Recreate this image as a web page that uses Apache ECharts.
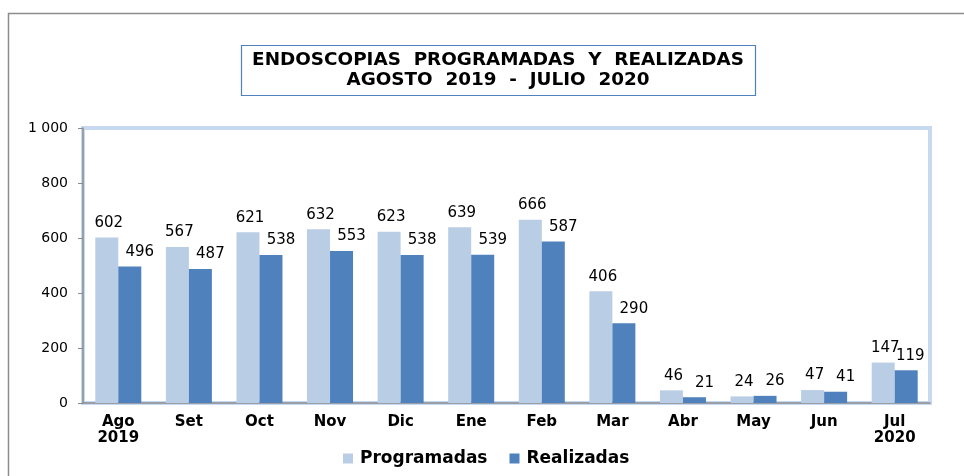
<!DOCTYPE html>
<html>
<head>
<meta charset="utf-8">
<script src="https://cdn.jsdelivr.net/npm/echarts@6/dist/echarts.min.js"></script>
<style>
  html, body { margin: 0; padding: 0; background: #fff; }
  #chart { width: 964px; height: 476px; }
</style>
</head>
<body>
<div id="chart"></div>
<script>
// meses agosto 2019 - julio 2020
var meses = ['Ago\n2019', 'Set', 'Oct', 'Nov', 'Dic', 'Ene', 'Feb', 'Mar', 'Abr', 'May', 'Jun', 'Jul\n2020']
var programadas = [602, 567, 621, 632, 623, 639, 666, 406, 46, 24, 47, 147]
var realizadas = [496, 487, 538, 553, 538, 539, 587, 290, 21, 26, 41, 119]

var font = 'DejaVu Sans'
var chart = echarts.init(document.getElementById('chart'))

// la ultima etiqueta queda pegada al borde, se corre menos
var realizadasData = realizadas.map(function (v, i) {
  return i === realizadas.length - 1 ? { value: v, label: { offset: [4, 0] } } : v
})

chart.setOption({
  animation: false,
  textStyle: { fontFamily: font },
  graphic: [
    {
      // marco exterior
      type: 'rect',
      shape: { x: 8.5, y: 13.5, width: 1000, height: 500 },
      style: { fill: 'none', stroke: '#8c8c8c', lineWidth: 1.5 }
    },
    {
      // caja del titulo
      type: 'rect',
      shape: { x: 241.5, y: 45.5, width: 514, height: 50 },
      style: { fill: '#fff', stroke: '#4f81bd', lineWidth: 1.2 }
    },
    {
      type: 'text',
      x: 498,
      y: 51,
      scaleX: 1.08,
      style: {
        text: 'ENDOSCOPIAS  PROGRAMADAS  Y  REALIZADAS\nAGOSTO  2019  -  JULIO  2020',
        font: 'bold 17px ' + font,
        fill: '#000',
        align: 'center',
        verticalAlign: 'top',
        lineHeight: 20
      }
    }
  ],
  legend: {
    bottom: 4,
    left: 338,
    itemWidth: 10,
    itemHeight: 10,
    itemGap: 22,
    icon: 'rect',
    textStyle: { fontSize: 17, fontWeight: 'bold', color: '#000', fontFamily: font, padding: [0, 0, 0, 2] }
  },
  grid: {
    left: 83,
    right: 34,
    top: 128,
    bottom: 73,
    show: true,
    borderColor: '#c6d9f1',
    borderWidth: 4
  },
  xAxis: {
    type: 'category',
    data: meses,
    axisLine: { lineStyle: { color: '#8c8c8c', width: 1.5 } },
    axisTick: { length: 5, lineStyle: { color: '#8c8c8c' } },
    axisLabel: {
      color: '#000',
      fontSize: 15,
      fontWeight: 'bold',
      fontFamily: font,
      margin: 11,
      lineHeight: 16,
      interval: 0
    }
  },
  yAxis: {
    type: 'value',
    min: 0,
    max: 1000,
    interval: 200,
    axisLine: { show: true, lineStyle: { color: '#8c8c8c', width: 1.5 } },
    axisTick: { show: true, length: 5, lineStyle: { color: '#8c8c8c' } },
    splitLine: { show: false },
    axisLabel: {
      color: '#000',
      fontSize: 14,
      fontFamily: font,
      margin: 15,
      formatter: function (v) {
        return v >= 1000 ? String(v).replace(/(\d)(?=(\d{3})+$)/g, '$1 ') : v
      }
    }
  },
  series: [
    {
      name: 'Programadas',
      type: 'bar',
      data: programadas,
      barWidth: 23,
      barGap: '0%',
      itemStyle: { color: '#b9cde5' },
      label: { show: true, position: 'top', color: '#000', fontSize: 15, fontFamily: font, distance: 7, offset: [2, 0] }
    },
    {
      name: 'Realizadas',
      type: 'bar',
      data: realizadasData,
      barWidth: 23,
      itemStyle: { color: '#4f81bd' },
      label: { show: true, position: 'top', color: '#000', fontSize: 15, fontFamily: font, distance: 7, offset: [10, 0] }
    }
  ]
})
</script>
</body>
</html>
